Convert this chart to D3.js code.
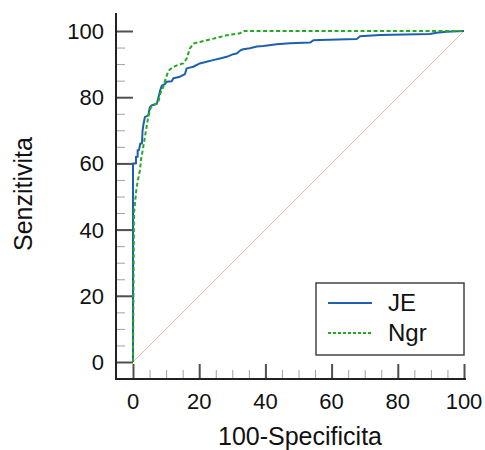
<!DOCTYPE html>
<html>
<head>
<meta charset="utf-8">
<script src="https://cdn.jsdelivr.net/npm/d3@7"></script>
<style>
  body{ margin:0; background:#fff; }
  text{ font-family:"Liberation Sans", Arial, sans-serif; fill:#111; }
</style>
</head>
<body>
<svg id="roc" width="485" height="450"></svg>
<script>
//-----------------------------------------------------------------------------
// DATA (100-Specificita, Senzitivita)
var seriesNames = ["JE", "Ngr"];
var jeX = [0,0,0.9,0.9,1.4,1.4,1.8,2.2,2.7,2.9,3.2,3.6,4.6,5.1,5.6,7.2,7.7,8.2,8.7,9.7,10.2,11.7,12.2,14.2,15.7,16.2,18.2,20.2,22.2,24.2,26.3,28.3,30.3,31.3,32.5,33.3,35.3,37.4,39.4,43.4,47.4,53.5,54.5,56.5,67.6,68.6,74.6,89.7,91.7,94.7,100];
var jeY = [0,60,60,62,62,64,64,66,66,70,72,74,74.5,77,77.5,78,80,82,83.5,84,84.7,84.8,85.7,86.2,87,88.7,89.2,90.2,90.7,91.2,91.7,92.2,93,93.2,94.2,94.5,94.8,95.3,95.5,96,96.3,96.5,97.2,97.3,97.6,98.4,98.8,99.1,99.5,99.8,100];
var ngrX = [0,0.3,0.6,1,1.5,2.1,2.4,3.1,3.6,4.1,4.6,5.4,6.1,7.6,8.2,9.1,9.7,10.2,10.7,12.2,13.7,15.2,16.2,17.2,18.2,20.2,22.3,24.3,26.3,28.3,30.3,32.3,33.5,100];
var ngrY = [0,45,48,52,55,58,61,65,68,71,74,77,77.6,78.3,81,83,85,86.5,88,89.2,89.8,90.2,91.7,94.7,96.2,96.7,97.2,97.7,98.2,98.7,99,99.3,100,100];
var tickValues = [0,20,40,60,80,100];
var minorTickValues = d3.range(0, 101, 5);
//-----------------------------------------------------------------------------
// CONFIG
var config={
  'x0'       : 133,
  'x1'       : 464,
  'y0'       : 362,
  'y1'       : 31,
  'axisX'    : 116,  // y axis line position
  'axisY'    : 379,  // x axis line position
  'tickFont' : 22,
  'titleFont': 25,
  'legendFont': 24
};
//-----------------------------------------------------------------------------
var svg = d3.select("svg#roc");

var x = d3.scaleLinear().domain([0,100]).range([config.x0, config.x1]);
var y = d3.scaleLinear().domain([0,100]).range([config.y0, config.y1]);

// diagonal reference
svg.append("line")
   .attr("x1", x(0)).attr("y1", y(0))
   .attr("x2", x(100)).attr("y2", y(100))
   .attr("stroke", "#f0b4aa")
   .attr("stroke-width", 1);

//-----------------------------------------------------------------------------
// AXES (offset from the data area, ticks pointing inside)
var yMinor = d3.axisRight(y).tickValues(minorTickValues).tickSize(9).tickFormat("");
var yMajor = d3.axisRight(y).tickValues(tickValues).tickSize(17).tickFormat("");
var xMinor = d3.axisTop(x).tickValues(minorTickValues).tickSize(9).tickFormat("");
var xMajor = d3.axisTop(x).tickValues(tickValues).tickSize(15).tickFormat("");

var gy = svg.append("g").attr("transform", "translate(" + config.axisX + ",0)");
gy.append("g").call(yMinor).attr("class", "minor");
gy.append("g").call(yMajor).attr("class", "major");

var gx = svg.append("g").attr("transform", "translate(0," + config.axisY + ")");
gx.append("g").call(xMinor).attr("class", "minor");
gx.append("g").call(xMajor).attr("class", "major");

svg.selectAll(".domain").remove();
svg.selectAll(".minor line").attr("stroke", "#a0a0a0").attr("stroke-width", 1);
svg.selectAll(".major line").attr("stroke", "#505050").attr("stroke-width", 2);

svg.append("line")
   .attr("x1", config.axisX).attr("y1", 13)
   .attr("x2", config.axisX).attr("y2", config.axisY + 1)
   .attr("stroke", "#222").attr("stroke-width", 2);
svg.append("line")
   .attr("x1", config.axisX - 1).attr("y1", config.axisY)
   .attr("x2", 466).attr("y2", config.axisY)
   .attr("stroke", "#222").attr("stroke-width", 2);

// tick labels
svg.selectAll("text.ylab").data(tickValues).enter()
   .append("text").attr("class", "ylab")
   .attr("x", 104).attr("y", function(d){ return y(d) + 8; })
   .attr("text-anchor", "end")
   .style("font-size", config.tickFont + "px")
   .text(function(d){ return d; });

svg.selectAll("text.xlab").data(tickValues).enter()
   .append("text").attr("class", "xlab")
   .attr("x", function(d){ return x(d); }).attr("y", 409)
   .attr("text-anchor", "middle")
   .style("font-size", config.tickFont + "px")
   .text(function(d){ return d; });

// titles
svg.append("text")
   .attr("x", 300).attr("y", 445)
   .attr("text-anchor", "middle")
   .style("font-size", config.titleFont + "px")
   .text("100-Specificita");

svg.append("text")
   .attr("transform", "translate(32,194) rotate(-90)")
   .attr("text-anchor", "middle")
   .style("font-size", config.titleFont + "px")
   .text("Senzitivita");

//-----------------------------------------------------------------------------
// CURVES
var line = d3.line()
  .x(function(d){ return x(d[0]); })
  .y(function(d){ return y(d[1]); });

var jeData  = d3.zip(jeX, jeY);
var ngrData = d3.zip(ngrX, ngrY);

svg.append("path").datum(jeData)
   .attr("d", line)
   .attr("fill", "none")
   .attr("stroke", "#1f5fae")
   .attr("stroke-width", 2)
   .attr("stroke-linejoin", "round");

svg.append("path").datum(ngrData)
   .attr("d", line)
   .attr("fill", "none")
   .attr("stroke", "#22aa22")
   .attr("stroke-width", 2)
   .attr("stroke-dasharray", "4,2.5");

//-----------------------------------------------------------------------------
// LEGEND
var legend = svg.append("g").attr("transform", "translate(316,283)");
legend.append("rect")
      .attr("width", 148).attr("height", 72)
      .attr("fill", "#fff")
      .attr("stroke", "#444").attr("stroke-width", 1.5);

var styles = [{color:"#1f5fae", dash:null}, {color:"#22aa22", dash:"3,2"}];
seriesNames.forEach(function(name, i){
  var yy = 20 + i*30;
  legend.append("line")
        .attr("x1", 12).attr("x2", 56)
        .attr("y1", yy).attr("y2", yy)
        .attr("stroke", styles[i].color)
        .attr("stroke-width", 2)
        .attr("stroke-dasharray", styles[i].dash);
  legend.append("text")
        .attr("x", 72).attr("y", yy + 8)
        .style("font-size", config.legendFont + "px")
        .text(name);
});
</script>
</body>
</html>
